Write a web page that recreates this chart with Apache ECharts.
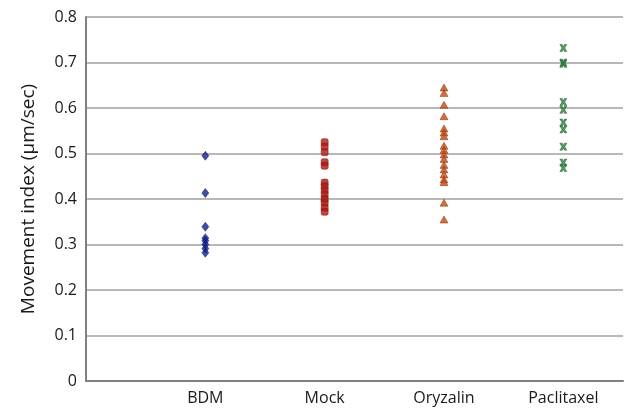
<!DOCTYPE html>
<html>
<head>
<meta charset="utf-8">
<script src="https://cdn.jsdelivr.net/npm/echarts@6/dist/echarts.min.js"></script>
<style>
  html, body { margin: 0; padding: 0; background: #fff; }
  #chart { width: 626px; height: 410px; }
</style>
</head>
<body>
<div id="chart"></div>
<script>
// categories and values
const categories = ['BDM', 'Mock', 'Oryzalin', 'Paclitaxel'];
const bdm = [0.495, 0.413, 0.339, 0.314, 0.308, 0.300, 0.291, 0.282];
const mock = [0.525, 0.515, 0.503, 0.481, 0.473, 0.436, 0.428, 0.419, 0.410, 0.400, 0.392, 0.381, 0.372];
const oryzalin = [0.645, 0.633, 0.607, 0.582, 0.555, 0.546, 0.538, 0.517, 0.508, 0.498, 0.488, 0.475, 0.465, 0.454, 0.443, 0.437, 0.392, 0.355];
const paclitaxel = [0.732, 0.700, 0.697, 0.613, 0.596, 0.568, 0.553, 0.515, 0.480, 0.468];
const yTicks = [0, 0.1, 0.2, 0.3, 0.4, 0.5, 0.6, 0.7, 0.8];

const groups = [bdm, mock, oryzalin, paclitaxel];
const colors = ['#10208e', '#b01812', '#c24a12', '#2f8540'];
const borders = ['#0a1560', '#7a0e0a', '#8a3008', '#1d5a2a'];
const xMark = 'path://M0,0L3.5,0L5,3.5L6.5,0L10,0L7,5L10,10L6.5,10L5,6.5L3.5,10L0,10L3,5Z';
const symbols = ['diamond', 'roundRect', 'triangle', xMark];
const sizes = [[7, 9], [7, 7], [8, 7], [7, 7]];

const chart = echarts.init(document.getElementById('chart'));
const font = '"Open Sans", "Liberation Sans", sans-serif';

chart.setOption({
  animation: false,
  grid: { left: 86, right: 0, top: 17, bottom: 29 },
  xAxis: {
    type: 'value',
    min: 0,
    max: 4.5,
    interval: 1,
    axisLine: { show: true, lineStyle: { color: '#808080', width: 2 } },
    axisTick: { show: false },
    splitLine: { show: false },
    axisLabel: {
      color: '#1a1a1a',
      fontFamily: font,
      fontSize: 16,
      margin: 9,
      formatter: (v) => categories[v - 1] || ''
    }
  },
  yAxis: {
    type: 'value',
    min: yTicks[0],
    max: yTicks[yTicks.length - 1],
    interval: 0.1,
    name: 'Movement index (μm/sec)',
    nameLocation: 'middle',
    nameGap: 48,
    nameTextStyle: { color: '#1a1a1a', fontFamily: font, fontSize: 19 },
    axisLine: { show: true, lineStyle: { color: '#808080', width: 2 } },
    axisTick: { show: false },
    splitLine: { show: true, lineStyle: { color: '#a0a0a0', width: 1.5 } },
    axisLabel: {
      color: '#1a1a1a',
      fontFamily: font,
      fontSize: 16,
      margin: 9,
      formatter: (v) => (v === 0 ? '0' : v.toFixed(1))
    }
  },
  series: groups.map((vals, i) => ({
    name: categories[i],
    type: 'scatter',
    symbol: symbols[i],
    symbolSize: sizes[i],
    itemStyle: { color: colors[i], borderColor: borders[i], borderWidth: 0.6 },
    data: vals.map((v) => [i + 1, v])
  }))
});
</script>
</body>
</html>
